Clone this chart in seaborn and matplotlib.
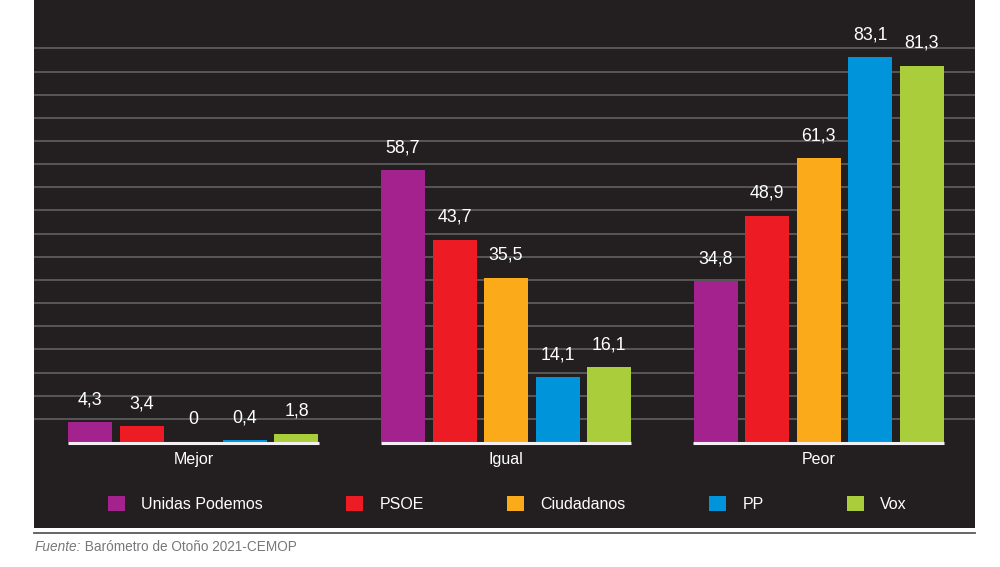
import numpy as np
import pandas as pd
import seaborn as sns
import matplotlib.pyplot as plt
from matplotlib.patches import Patch
from matplotlib.lines import Line2D

categories = ["Mejor", "Igual", "Peor"]
parties = ["Unidas Podemos", "PSOE", "Ciudadanos", "PP", "Vox"]
unidas_podemos = [4.3, 58.7, 34.8]
psoe = [3.4, 43.7, 48.9]
ciudadanos = [0, 35.5, 61.3]
pp = [0.4, 14.1, 83.1]
vox = [1.8, 16.1, 81.3]
series = [unidas_podemos, psoe, ciudadanos, pp, vox]
colors = ["#a4228e", "#ed1c24", "#fbaa19", "#0095da", "#a9cd3b"]
source_label = "Fuente:"
source_text = "Barómetro de Otoño 2021-CEMOP"

rows = []
for party, vals in zip(parties, series):
    for cat, v in zip(categories, vals):
        rows.append({"Categoría": cat, "Partido": party, "Porcentaje": v})
df = pd.DataFrame(rows)

plt.rcParams["font.family"] = ["Liberation Sans", "DejaVu Sans"]

BG = "#231f20"
W, H = 1000, 567
fig = plt.figure(figsize=(W / 100, H / 100), dpi=100)
fig.patch.set_facecolor("white")
panel_left, panel_right, panel_bottom = 34 / W, 975 / W, 1 - 528 / H
ax = fig.add_axes([panel_left, panel_bottom, panel_right - panel_left, 1 - panel_bottom])
ax.set_facecolor(BG)

GROUP_W = 0.824
sns.barplot(data=df, x="Categoría", y="Porcentaje", hue="Partido",
            order=categories, hue_order=parties, palette=colors,
            width=GROUP_W, gap=0.146, saturation=1, errorbar=None,
            legend=False, ax=ax, zorder=2)

ax.set_xlim(-0.51, 2.5)
ax.set_ylim(-18.57, 95.46)
ax.set_yticks(np.arange(5, 90, 5))
ax.yaxis.grid(True, color="#5c5b5c", lw=1.3)
ax.xaxis.grid(False)
ax.set_axisbelow(True)
ax.tick_params(left=False, labelleft=False, bottom=False, labelbottom=False)
ax.set_xlabel("")
ax.set_ylabel("")
for s in ax.spines.values():
    s.set_visible(False)

# baselines under each group
half = GROUP_W / 2 - 0.011
for i in range(len(categories)):
    ax.hlines(-0.25, i - half, i + half, color="#f3f0f4", lw=2.2, zorder=3)
    ax.text(i, -3.75, categories[i], ha="center", va="center",
            color="white", fontsize=11.5)


def fmt(v):
    if v == 0:
        return "0"
    return f"{v:.1f}".replace(".", ",")


for cont, vals in zip(ax.containers, series):
    for bar, v in zip(cont, vals):
        ax.annotate(fmt(v), (bar.get_x() + bar.get_width() / 2, bar.get_height()),
                    xytext=(0, 16), textcoords="offset points",
                    ha="center", va="center", color="white", fontsize=12.8)

handles = [Patch(facecolor=c, edgecolor="none", label=p) for c, p in zip(colors, parties)]
ax.legend(handles=handles, loc="center", bbox_to_anchor=(0.503, 24 / 528), ncol=5,
          frameon=False, fontsize=11.5, handlelength=1.05, handleheight=1.1,
          handletextpad=1.05, columnspacing=5.2, labelcolor="white")

fig.add_artist(Line2D([panel_left, panel_right], [1 - 533 / H] * 2,
                      color="#58595b", lw=1.3))
t1 = fig.text(35 / W, 1 - 547 / H, source_label, style="italic",
              color="#77787b", fontsize=9.8, va="center", ha="left")
ax.annotate(" " + source_text, xy=(1, 0), xycoords=t1, va="bottom", ha="left",
            color="#77787b", fontsize=9.8, annotation_clip=False)

fig.savefig("out.png", dpi=100, facecolor="white")
